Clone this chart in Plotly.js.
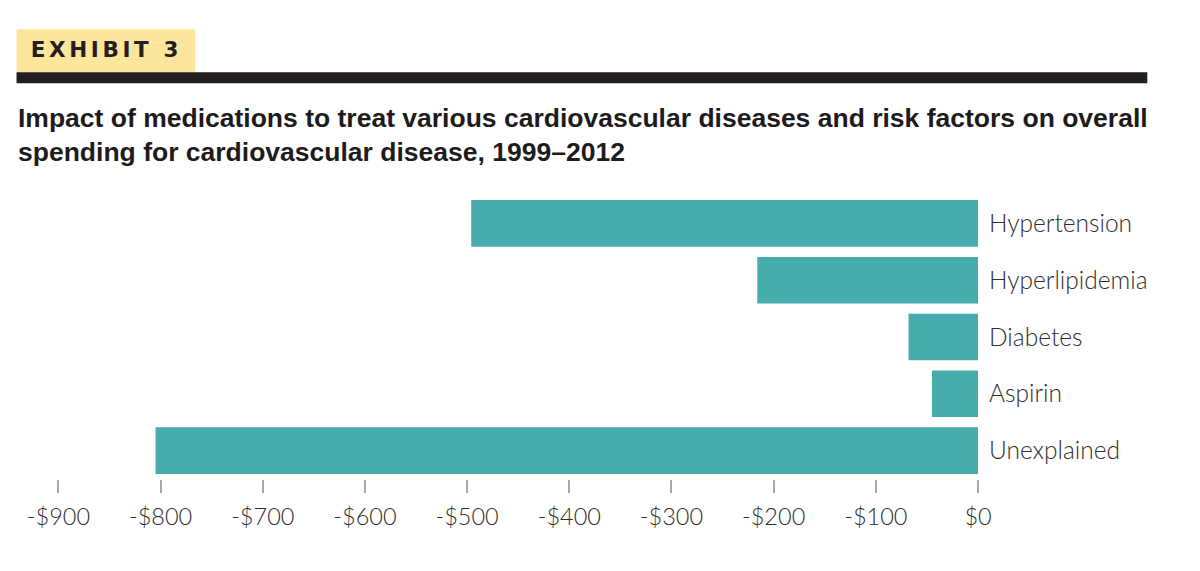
<!DOCTYPE html>
<html>
<head>
<meta charset="utf-8">
<script src="https://cdn.plot.ly/plotly-3.0.1.min.js"></script>
<style>
html,body{margin:0;padding:0;background:#fff;}
#chart{width:1200px;height:571px;}
#chart .annotation-text{letter-spacing:3.6px;}
</style>
</head>
<body>
<div id="chart"></div>
<script>
// ---- data ----
const categories = ["Hypertension", "Hyperlipidemia", "Diabetes", "Aspirin", "Unexplained"];
const values = [-496, -216, -68, -45, -805];
const tickValues = [-900, -800, -700, -600, -500, -400, -300, -200, -100, 0];
const tickLabels = ["-$900", "-$800", "-$700", "-$600", "-$500", "-$400", "-$300", "-$200", "-$100", "$0"];
const exhibitLabel = "EXHIBIT 3";
const chartTitle = "Impact of medications to treat various cardiovascular diseases and risk factors on overall<br>spending for cardiovascular disease, 1999–2012";

// ---- layout geometry (pixels) ----
const W = 1200, H = 571;
const plotL = 37.5, plotR = 978.5, plotT = 195, plotB = 479.5;
const px2x = p => (p - plotL) / (plotR - plotL);
const px2y = p => (plotB - p) / (plotB - plotT);

const trace = {
  type: "bar",
  orientation: "h",
  x: values,
  y: categories,
  marker: {color: "#46acad", line: {width: 0}},
  hoverinfo: "x+y"
};

const layout = {
  width: W, height: H,
  margin: {l: plotL, r: W - plotR, t: plotT, b: H - plotB, pad: 0},
  paper_bgcolor: "#ffffff",
  plot_bgcolor: "#ffffff",
  showlegend: false,
  bargap: 0.18,
  title: {
    text: chartTitle,
    font: {family: "Liberation Sans, Arial, sans-serif", size: 26.5, weight: 700, color: "#1e1b1c"},
    xref: "container", x: 18 / W, xanchor: "left",
    yref: "container", y: 1 - 127 / H, yanchor: "top"
  },
  xaxis: {
    range: [-920, 0],
    tickvals: tickValues,
    ticktext: tickLabels,
    showgrid: false, zeroline: false, showline: false,
    ticks: "outside", ticklen: 13, tickwidth: 2, tickcolor: "#a8a8a8",
    ticklabelstandoff: 4,
    tickfont: {family: "Lato, Open Sans, sans-serif", size: 23.5, weight: 300, color: "#2e2e2e"},
    fixedrange: true
  },
  yaxis: {
    type: "category",
    categoryorder: "array",
    categoryarray: categories,
    autorange: "reversed",
    side: "right",
    showgrid: false, zeroline: false, showline: false,
    ticks: "",
    ticklabelstandoff: 10,
    tickfont: {family: "Lato, Open Sans, sans-serif", size: 24.5, weight: 300, color: "#2e2e2e"},
    fixedrange: true
  },
  shapes: [
    {type: "rect", xref: "paper", yref: "paper",
     x0: px2x(16), x1: px2x(195), y0: px2y(72), y1: px2y(29),
     fillcolor: "#fde59c", line: {width: 0}, layer: "below"},
    {type: "rect", xref: "paper", yref: "paper",
     x0: px2x(16), x1: px2x(1148), y0: px2y(83), y1: px2y(72),
     fillcolor: "#231f20", line: {width: 0}}
  ],
  annotations: [
    {text: exhibitLabel, xref: "paper", yref: "paper",
     x: px2x(45), y: px2y(49.5), xanchor: "left", yanchor: "middle",
     showarrow: false,
     font: {family: "DejaVu Sans, sans-serif", size: 21.5, weight: 700, color: "#231f20"}}
  ]
};

Plotly.newPlot("chart", [trace], layout, {displayModeBar: false, staticPlot: true});
</script>
</body>
</html>
